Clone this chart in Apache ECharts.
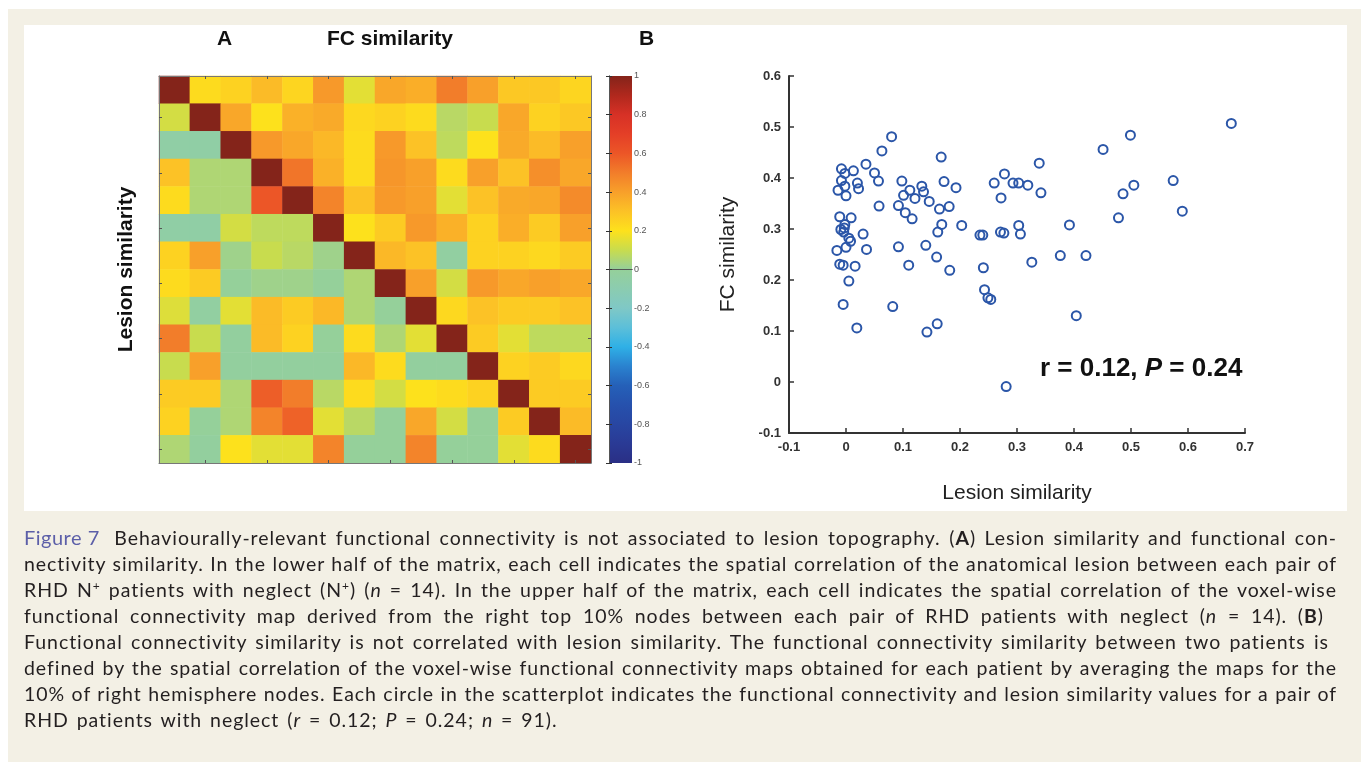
<!DOCTYPE html>
<html>
<head>
<meta charset="utf-8">
<script src="https://cdn.jsdelivr.net/npm/echarts@6/dist/echarts.min.js"></script>
<style>
  html, body { margin:0; padding:0; width:1361px; height:762px; overflow:hidden; background:#ffffff; }
  #beige { position:absolute; left:8px; top:9px; right:0; bottom:0; background:#f3f0e5; }
  #panel { position:absolute; left:24px; top:25px; width:1323px; height:486px; background:#ffffff; }
  #chart { position:absolute; left:0; top:0; width:1361px; height:762px; }
  #caption { position:absolute; left:24px; top:524px; width:1313px; font-family:Lato, "Open Sans", sans-serif; font-size:19.5px; letter-spacing:0.95px; line-height:26px; color:#231f20; }
  #caption .ln { white-space:nowrap; text-align:justify; text-align-last:justify; }
  #caption .ln.left { text-align:left; text-align-last:left; word-spacing:2px; }
  #caption .fig { display:inline-block; color:#5c5fa8; font-size:20px; letter-spacing:0.5px; margin-right:6px; }
  #caption sup { font-size:12px; line-height:0; }
</style>
</head>
<body>
<div id="beige"></div>
<div id="panel"></div>
<div id="chart"></div>
<div id="caption">
  <div class="ln"><span class="fig">Figure&nbsp;7</span> Behaviourally-relevant functional connectivity is not associated to lesion topography. (<b>A</b>) Lesion similarity and functional con-</div>
  <div class="ln">nectivity similarity. In the lower half of the matrix, each cell indicates the spatial correlation of the anatomical lesion between each pair of</div>
  <div class="ln">RHD N<sup>+</sup> patients with neglect (N<sup>+</sup>) (<i>n</i> = 14). In the upper half of the matrix, each cell indicates the spatial correlation of the voxel-wise</div>
  <div class="ln" style="width:1300px">functional connectivity map derived from the right top 10% nodes between each pair of RHD patients with neglect (<i>n</i> = 14). (<b>B</b>)</div>
  <div class="ln" style="width:1305px">Functional connectivity similarity is not correlated with lesion similarity. The functional connectivity similarity between two patients is</div>
  <div class="ln">defined by the spatial correlation of the voxel-wise functional connectivity maps obtained for each patient by averaging the maps for the</div>
  <div class="ln">10% of right hemisphere nodes. Each circle in the scatterplot indicates the functional connectivity and lesion similarity values for a pair of</div>
  <div class="ln left">RHD patients with neglect (<i>r</i> = 0.12; <i>P</i> = 0.24; <i>n</i> = 91).</div>
</div>
<script>
// ---------- DATA ----------
const patients = ['1','2','3','4','5','6','7','8','9','10','11','12','13','14'];

// 14x14 similarity matrix (rows top to bottom). Lower triangle: lesion similarity; upper: FC similarity
const simRow0  = [1, 0.22, 0.25, 0.32, 0.24, 0.42, 0.15, 0.38, 0.36, 0.50, 0.40, 0.28, 0.28, 0.24];
const simRow1  = [0.12, 1, 0.38, 0.20, 0.35, 0.37, 0.23, 0.25, 0.22, 0.07, 0.10, 0.38, 0.25, 0.28];
const simRow2  = [-0.05, -0.05, 1, 0.42, 0.38, 0.33, 0.22, 0.42, 0.30, 0.08, 0.20, 0.37, 0.32, 0.40];
const simRow3  = [0.30, 0.05, 0.05, 1, 0.52, 0.35, 0.22, 0.43, 0.40, 0.22, 0.40, 0.30, 0.45, 0.38];
const simRow4  = [0.22, 0.05, 0.05, 0.60, 1, 0.48, 0.30, 0.42, 0.40, 0.15, 0.30, 0.37, 0.38, 0.46];
const simRow5  = [-0.05, -0.05, 0.12, 0.08, 0.08, 1, 0.20, 0.27, 0.42, 0.35, 0.25, 0.36, 0.27, 0.40];
const simRow6  = [0.25, 0.40, 0.02, 0.10, 0.07, 0.02, 1, 0.33, 0.30, -0.03, 0.25, 0.25, 0.23, 0.27];
const simRow7  = [0.22, 0.27, 0.00, 0.02, 0.02, 0.00, 0.05, 1, 0.40, 0.12, 0.42, 0.38, 0.40, 0.38];
const simRow8  = [0.14, -0.03, 0.15, 0.32, 0.27, 0.33, 0.05, 0.00, 1, 0.23, 0.30, 0.27, 0.27, 0.30];
const simRow9  = [0.50, 0.10, -0.02, 0.32, 0.25, 0.00, 0.22, 0.05, 0.15, 1, 0.27, 0.15, 0.08, 0.08];
const simRow10 = [0.10, 0.40, -0.02, -0.02, -0.02, -0.02, 0.33, 0.22, -0.02, -0.02, 1, 0.25, 0.27, 0.23];
const simRow11 = [0.27, 0.27, 0.05, 0.58, 0.50, 0.07, 0.22, 0.12, 0.20, 0.22, 0.25, 1, 0.27, 0.27];
const simRow12 = [0.25, 0.00, 0.05, 0.48, 0.57, 0.15, 0.07, 0.00, 0.38, 0.12, 0.00, 0.27, 1, 0.32];
const simRow13 = [0.05, -0.02, 0.20, 0.15, 0.15, 0.48, 0.00, 0.00, 0.48, 0.00, 0.00, 0.15, 0.22, 1];
const simMatrix = [simRow0, simRow1, simRow2, simRow3, simRow4, simRow5, simRow6, simRow7,
                   simRow8, simRow9, simRow10, simRow11, simRow12, simRow13];

// Colour map stops from -1 to 1 (step 0.1)
const colorStops = ['#2a2f85','#2a3a95','#2846a2','#2651ad','#2560b8','#2a82cf','#2fb0e6','#5cbfd9',
  '#7fc8c6','#8bccb0','#95d09a','#c8dc4e','#fde11c','#fcc226','#f8a02a','#f27d2a','#ec5627',
  '#e43f27','#d73126','#b0281d','#84241a'];

// Scatter: lesion similarity (x) and FC similarity (y), n = 91 pairs
const lesionSim = [0.676, 0.499, 0.451, 0.574, 0.505, 0.486, 0.590, 0.478, 0.339, 0.342,
  0.319, 0.303, 0.293, 0.278, 0.260, 0.272, 0.392, 0.303, 0.306, 0.277,
  0.271, 0.240, 0.235, 0.376, 0.421, 0.326, 0.241, 0.243, 0.249, 0.254,
  0.404, 0.281, 0.203, 0.167, 0.172, 0.193, 0.181, 0.164, 0.168, 0.161,
  0.159, 0.182, 0.160, 0.142, 0.140, 0.110, 0.092, 0.146, 0.133, 0.136,
  0.121, 0.112, 0.098, 0.101, 0.092, 0.104, 0.116, 0.080, 0.063, 0.035,
  0.050, 0.057, 0.058, 0.082, 0.030, 0.036, 0.019, 0.013, 0.020, 0.022,
  -0.008, -0.002, -0.008, -0.002, -0.014, 0.000, -0.011, 0.009, -0.002, -0.009,
  -0.004, 0.005, 0.008, 0.000, -0.016, -0.011, -0.005, 0.016, 0.005, -0.005,
  -0.003];
const fcSim = [0.507, 0.484, 0.456, 0.395, 0.386, 0.369, 0.335, 0.322, 0.429, 0.371,
  0.386, 0.390, 0.390, 0.408, 0.390, 0.361, 0.308, 0.307, 0.290, 0.292,
  0.294, 0.288, 0.288, 0.248, 0.248, 0.235, 0.224, 0.181, 0.165, 0.162,
  0.130, -0.009, 0.307, 0.441, 0.393, 0.381, 0.344, 0.339, 0.309, 0.294,
  0.245, 0.219, 0.114, 0.098, 0.268, 0.229, 0.265, 0.354, 0.384, 0.373,
  0.360, 0.376, 0.394, 0.366, 0.346, 0.332, 0.320, 0.481, 0.453, 0.427,
  0.410, 0.394, 0.345, 0.148, 0.290, 0.260, 0.106, 0.414, 0.390, 0.379,
  0.418, 0.409, 0.395, 0.384, 0.376, 0.365, 0.324, 0.322, 0.309, 0.299,
  0.294, 0.282, 0.276, 0.264, 0.258, 0.231, 0.229, 0.227, 0.198, 0.152,
  0.302];

const colorbarMin = -1, colorbarMax = 1, colorbarStep = 0.2;
const annotationText = ['r = 0.12, ', 'P', ' = 0.24'];

// ---------- BUILD ----------
const heatData = [];
simMatrix.forEach((row, r) => row.forEach((v, c) => heatData.push([c, r, v])));
const scatterData = lesionSim.map((x, i) => [x, fcSim[i]]);

const FONT = '"Liberation Sans", Arial, sans-serif';
const hmGrid = {left:159, top:76, width:432, height:387};
const cbGrid = {left:609, top:76, width:23, height:387};
const scGrid = {left:789, top:76, width:456, height:357};

const oddTick = { show:true, inside:true, length:3, alignWithLabel:true, interval:(i)=> i % 2 === 1, lineStyle:{color:'#555', width:1} };
const hmLine = { show:true, lineStyle:{color:'#777', width:1} };

const chart = echarts.init(document.getElementById('chart'), null, {renderer:'canvas'});
chart.setOption({
  backgroundColor:'transparent',
  animation:false,
  textStyle:{fontFamily:FONT},
  title:[
    {text:'A', left:217, top:29, padding:0, textStyle:{fontSize:21, fontWeight:'bold', color:'#111', fontFamily:FONT}},
    {text:'FC similarity', left:327, top:29, padding:0, textStyle:{fontSize:21, fontWeight:'bold', color:'#111', fontFamily:FONT}},
    {text:'B', left:639, top:29, padding:0, textStyle:{fontSize:21, fontWeight:'bold', color:'#111', fontFamily:FONT}},
    {text:'{n|' + annotationText[0] + '}{i|' + annotationText[1] + '}{n|' + annotationText[2] + '}',
     left:1040, top:356, padding:0,
     textStyle:{rich:{
       n:{fontSize:26, color:'#111', fontFamily:FONT},
       i:{fontSize:26, color:'#111', fontStyle:'italic', fontFamily:FONT}
     }}}
  ],
  grid:[
    Object.assign({containLabel:false}, hmGrid),
    Object.assign({containLabel:false}, cbGrid),
    Object.assign({containLabel:false}, scGrid)
  ],
  visualMap:{
    show:false, type:'continuous', min:colorbarMin, max:colorbarMax, seriesIndex:0,
    inRange:{color:colorStops}
  },
  xAxis:[
    {gridIndex:0, type:'category', data:patients, position:'bottom', axisLine:hmLine, axisTick:oddTick, axisLabel:{show:false}, splitLine:{show:false}, z:10},
    {gridIndex:0, type:'category', data:patients, position:'top', axisLine:hmLine, axisTick:oddTick, axisLabel:{show:false}, splitLine:{show:false}, z:10},
    {gridIndex:1, type:'value', min:0, max:1, position:'bottom', axisLine:{show:true, lineStyle:{color:'#555', width:1}}, axisTick:{show:false}, axisLabel:{show:false}, splitLine:{show:false}, z:10},
    {gridIndex:1, type:'value', min:0, max:1, position:'top', axisLine:{show:true, lineStyle:{color:'#555', width:1}}, axisTick:{show:false}, axisLabel:{show:false}, splitLine:{show:false}, z:10},
    {gridIndex:2, type:'value', min:-0.1, max:0.7, interval:0.1, position:'bottom',
     axisLine:{show:true, onZero:false, lineStyle:{color:'#333', width:2}},
     axisTick:{show:true, inside:true, length:5, lineStyle:{color:'#333', width:1.5}},
     axisLabel:{color:'#333', fontSize:13, fontWeight:'bold', margin:8, fontFamily:FONT},
     splitLine:{show:false},
     name:'Lesion similarity', nameLocation:'middle', nameGap:50,
     nameTextStyle:{fontSize:21, color:'#222', fontFamily:FONT}}
  ],
  yAxis:[
    {gridIndex:0, type:'category', data:patients, inverse:true, position:'left', axisLine:hmLine, axisTick:oddTick, axisLabel:{show:false}, splitLine:{show:false}, z:10,
     name:'Lesion similarity', nameLocation:'middle', nameGap:22, nameRotate:90,
     nameTextStyle:{fontSize:21, fontWeight:'bold', color:'#111', fontFamily:FONT}},
    {gridIndex:0, type:'category', data:patients, inverse:true, position:'right', axisLine:hmLine, axisTick:oddTick, axisLabel:{show:false}, splitLine:{show:false}, z:10},
    {gridIndex:1, type:'value', min:colorbarMin, max:colorbarMax, interval:colorbarStep, position:'left',
     axisLine:{show:true, lineStyle:{color:'#555', width:1}}, axisTick:{show:true, inside:true, length:3, lineStyle:{color:'#333'}},
     axisLabel:{show:false}, splitLine:{show:false}, z:10},
    {gridIndex:1, type:'value', min:colorbarMin, max:colorbarMax, interval:colorbarStep, position:'right',
     axisLine:{show:true, lineStyle:{color:'#555', width:1}}, axisTick:{show:true, inside:true, length:3, lineStyle:{color:'#333'}},
     axisLabel:{show:true, fontSize:9, color:'#555', margin:2, fontFamily:FONT}, splitLine:{show:false}, z:10},
    {gridIndex:2, type:'value', min:-0.1, max:0.6, interval:0.1, position:'left',
     axisLine:{show:true, onZero:false, lineStyle:{color:'#333', width:2}},
     axisTick:{show:true, inside:true, length:5, lineStyle:{color:'#333', width:1.5}},
     axisLabel:{color:'#333', fontSize:13, fontWeight:'bold', margin:8, fontFamily:FONT},
     splitLine:{show:false},
     name:'FC similarity', nameLocation:'middle', nameGap:50,
     nameTextStyle:{fontSize:21, color:'#222', fontFamily:FONT}}
  ],
  graphic:[
    {type:'rect', z:1, silent:true,
     shape:{x:cbGrid.left, y:cbGrid.top, width:cbGrid.width, height:cbGrid.height},
     style:{fill:new echarts.graphic.LinearGradient(0, 1, 0, 0,
        colorStops.map((c, i) => ({offset:i/(colorStops.length-1), color:c}))), stroke:null}}
  ],
  series:[
    {type:'heatmap', xAxisIndex:0, yAxisIndex:0, data:heatData, itemStyle:{borderWidth:0}, emphasis:{disabled:true}, progressive:0},
    {type:'scatter', xAxisIndex:4, yAxisIndex:4, data:scatterData, symbol:'circle', symbolSize:9,
     itemStyle:{color:'rgba(255,255,255,0)', borderColor:'#2b56a8', borderWidth:2, opacity:1},
     emphasis:{disabled:true}, z:5}
  ]
});
</script>
</body>
</html>
